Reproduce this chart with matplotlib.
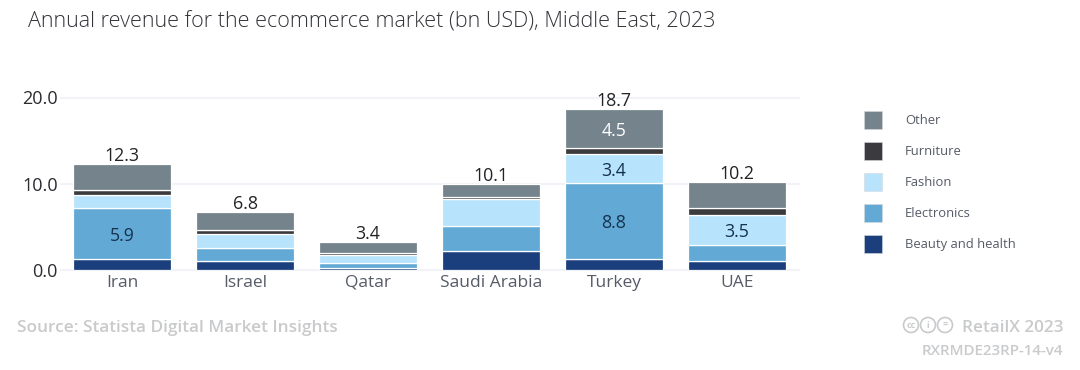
import matplotlib
matplotlib.use("Agg")
import matplotlib.pyplot as plt
from matplotlib.patches import Circle, Patch
import numpy as np

plt.rcParams['font.family'] = ['Open Sans', 'DejaVu Sans']

countries = ["Iran", "Israel", "Qatar", "Saudi Arabia", "Turkey", "UAE"]
series_names = ["Beauty and health", "Electronics", "Fashion", "Furniture", "Other"]
beauty = [1.25, 1.0, 0.25, 2.15, 1.25, 1.0]
electronics = [5.9, 1.6, 0.6, 3.0, 8.8, 1.9]
fashion = [1.6, 1.55, 0.9, 3.05, 3.4, 3.5]
furniture = [0.5, 0.5, 0.2, 0.3, 0.65, 0.8]
other = [3.0, 2.05, 1.35, 1.5, 4.54, 2.95]
totals = [12.3, 6.8, 3.4, 10.1, 18.7, 10.2]
colors = ["#1b3f7c", "#62aad5", "#b7e3fc", "#3b3b3d", "#74838c"]
shown = {(1, 0): "#14324f", (1, 4): "#14324f", (2, 4): "#14324f", (2, 5): "#14324f", (4, 4): "#ffffff"}
y_ticks = [0, 10, 20]

W, H = 1080, 370
fig = plt.figure(figsize=(W / 100, H / 100), dpi=100, facecolor="white")
ax = fig.add_axes([60.5 / W, 1 - 270 / H, 738 / W, 172.5 / H])

x = np.arange(len(countries))
data = [beauty, electronics, fashion, furniture, other]
bottom = np.zeros(len(countries))
for si, (vals, col, name) in enumerate(zip(data, colors, series_names)):
    vals = np.array(vals)
    ax.bar(x, vals, 0.797, bottom=bottom, color=col, edgecolor="white", linewidth=0.9, label=name, zorder=3)
    for ci in range(len(countries)):
        if (si, ci) in shown:
            ax.text(x[ci], bottom[ci] + vals[ci] / 2, f"{vals[ci]:.1f}", ha="center", va="center_baseline",
                    fontsize=12.8, color=shown[(si, ci)], zorder=5)
    bottom = bottom + vals

for xi, top, total in zip(x, bottom, totals):
    ax.annotate(f"{total:.1f}", (xi, top), xytext=(0, -0.7), textcoords="offset points", ha="center", va="bottom",
                fontsize=12.8, color="#222326", zorder=6)

ax.set_xlim(-0.5, 5.5)
ax.set_ylim(0, 20)
ax.set_yticks(y_ticks, [f"{v:.1f}" for v in y_ticks], fontsize=13, color="#2b2c30")
ax.set_xticks(x, countries, fontsize=12.5, color="#565b68")
ax.tick_params(length=0)
ax.tick_params(axis="y", pad=2)
ax.tick_params(axis="x", pad=12)
for lab in ax.get_xticklabels():
    lab.set_verticalalignment("baseline")
ax.grid(axis="y", color="#f1f3f8", linewidth=1.5, zorder=0)
ax.set_axisbelow(True)
for s in ax.spines.values():
    s.set_visible(False)
for l in ax.get_ygridlines():
    l.set_clip_on(False)

handles = [Patch(facecolor=c, edgecolor="#d5d8dc", linewidth=0.4) for c in colors[::-1]]
fs = 9.35
fpx = fs * 100 / 72
fig.legend(handles, series_names[::-1], loc="upper left", bbox_to_anchor=(864 / W, 1 - 111 / H),
           borderaxespad=0, borderpad=0, frameon=False, fontsize=fs, labelcolor="#565b68",
           handlelength=18 / fpx, handleheight=1.79, handletextpad=23 / fpx, labelspacing=(30.7 - 18) / fpx)

fig.text(28 / W, 1 - 22 / H, "Annual revenue for the ecommerce market (bn USD), Middle East, 2023",
         fontsize=15.53, fontweight="light", color="#33343a", va="center", ha="left")
fig.text(17 / W, 1 - 328 / H, "Source: Statista Digital Market Insights", fontsize=12.4, fontweight="semibold",
         color="#c9cacc", va="center", ha="left")
fig.text(1063 / W, 1 - 328 / H, "RetailX 2023", fontsize=12.3, fontweight="semibold", color="#c9cacc",
         va="center", ha="right")
fig.text(1063 / W, 1 - 351 / H, "RXRMDE23RP-14-v4", fontsize=10.9, fontweight="semibold", color="#c9cacc",
         va="center", ha="right")

overlay = fig.add_axes([0, 0, 1, 1], facecolor="none")
overlay.set_xlim(0, W)
overlay.set_ylim(H, 0)
overlay.axis("off")
for cx, lab in zip([911, 928, 945], ["cc", "i", "="]):
    overlay.add_patch(Circle((cx, 325), 7.5, fc="none", ec="#c9cacc", lw=1.2))
    overlay.text(cx, 325, lab, ha="center", va="center", fontsize=6.5, color="#c9cacc", fontweight="bold")

fig.savefig("out.png", dpi=100, facecolor="white")
